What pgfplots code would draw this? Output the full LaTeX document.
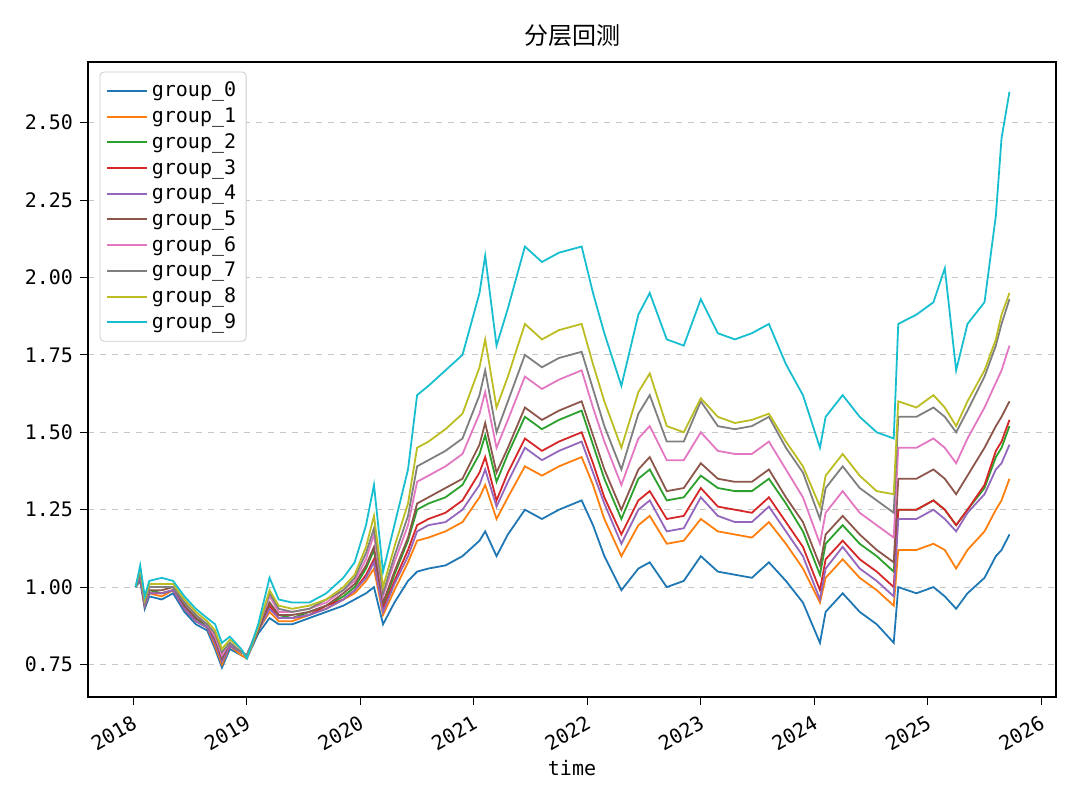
\documentclass[border=0pt]{standalone}
\usepackage{pgfplots}
\usepackage{pgfplotstable}
\usepackage{fontspec}
\pgfplotsset{compat=1.18}
\setmainfont{DejaVu Sans Mono}
\newfontfamily\cjk{Noto Sans CJK SC}
\definecolor{c0}{HTML}{1F77B4}\definecolor{c1}{HTML}{FF7F0E}\definecolor{c2}{HTML}{2CA02C}
\definecolor{c3}{HTML}{D62728}\definecolor{c4}{HTML}{9467BD}\definecolor{c5}{HTML}{8C564B}
\definecolor{c6}{HTML}{E377C2}\definecolor{c7}{HTML}{7F7F7F}\definecolor{c8}{HTML}{BCBD22}
\definecolor{c9}{HTML}{17BECF}
\pgfplotstableread{
t g0 g1 g2 g3 g4 g5 g6 g7 g8 g9
2018.02 1.00 1.00 1.00 1.00 1.00 1.00 1.00 1.00 1.00 1.00
2018.06 1.02 1.03 1.04 1.03 1.03 1.04 1.05 1.05 1.06 1.07
2018.10 0.93 0.94 0.94 0.94 0.94 0.95 0.95 0.95 0.96 0.97
2018.14 0.97 0.98 0.99 0.98 0.98 0.99 1.00 1.00 1.01 1.02
2018.25 0.96 0.97 0.98 0.98 0.98 0.99 1.00 1.00 1.01 1.03
2018.35 0.98 0.99 0.99 0.99 0.99 1.00 1.00 1.00 1.01 1.02
2018.45 0.92 0.93 0.94 0.93 0.93 0.94 0.95 0.95 0.96 0.97
2018.55 0.88 0.89 0.90 0.89 0.89 0.90 0.91 0.91 0.92 0.93
2018.65 0.86 0.87 0.87 0.87 0.87 0.88 0.88 0.88 0.89 0.90
2018.72 0.80 0.81 0.83 0.82 0.82 0.83 0.84 0.85 0.86 0.88
2018.78 0.74 0.75 0.77 0.76 0.76 0.77 0.78 0.79 0.80 0.82
2018.85 0.80 0.81 0.81 0.81 0.81 0.82 0.82 0.82 0.83 0.84
2018.95 0.78 0.78 0.79 0.79 0.79 0.79 0.79 0.79 0.80 0.80
2019.00 0.77 0.77 0.78 0.78 0.78 0.78 0.78 0.78 0.77 0.77
2019.10 0.85 0.86 0.86 0.86 0.86 0.86 0.87 0.87 0.87 0.88
2019.20 0.90 0.92 0.95 0.94 0.93 0.95 0.97 0.98 0.99 1.03
2019.28 0.88 0.89 0.91 0.90 0.90 0.91 0.92 0.93 0.94 0.96
2019.40 0.88 0.89 0.90 0.90 0.90 0.91 0.92 0.92 0.93 0.95
2019.55 0.90 0.91 0.92 0.91 0.91 0.92 0.93 0.93 0.94 0.95
2019.70 0.92 0.93 0.94 0.94 0.93 0.94 0.95 0.96 0.96 0.98
2019.85 0.94 0.96 0.97 0.96 0.96 0.98 0.99 0.99 1.00 1.03
2019.95 0.96 0.98 1.00 0.99 0.99 1.01 1.02 1.03 1.04 1.08
2020.05 0.98 1.02 1.06 1.04 1.03 1.07 1.09 1.11 1.13 1.20
2020.12 1.00 1.06 1.12 1.09 1.08 1.13 1.17 1.19 1.23 1.33
2020.20 0.88 0.91 0.94 0.93 0.92 0.95 0.97 0.98 1.00 1.05
2020.30 0.95 0.99 1.04 1.02 1.01 1.05 1.08 1.10 1.13 1.20
2020.42 1.02 1.08 1.15 1.12 1.10 1.16 1.20 1.23 1.27 1.38
2020.50 1.05 1.15 1.25 1.20 1.18 1.27 1.34 1.39 1.45 1.62
2020.60 1.06 1.16 1.27 1.22 1.20 1.29 1.36 1.41 1.47 1.65
2020.75 1.07 1.18 1.29 1.24 1.21 1.32 1.39 1.44 1.51 1.70
2020.90 1.10 1.21 1.33 1.28 1.25 1.35 1.43 1.48 1.56 1.75
2021.05 1.15 1.29 1.43 1.37 1.33 1.46 1.56 1.62 1.71 1.95
2021.10 1.18 1.33 1.49 1.42 1.38 1.53 1.63 1.70 1.80 2.07
2021.20 1.10 1.22 1.34 1.28 1.26 1.37 1.45 1.50 1.58 1.78
2021.30 1.17 1.29 1.43 1.37 1.34 1.45 1.54 1.60 1.68 1.90
2021.45 1.25 1.39 1.55 1.48 1.45 1.58 1.68 1.75 1.85 2.10
2021.60 1.22 1.36 1.51 1.44 1.41 1.54 1.64 1.71 1.80 2.05
2021.75 1.25 1.39 1.54 1.47 1.44 1.57 1.67 1.74 1.83 2.08
2021.95 1.28 1.42 1.57 1.50 1.47 1.60 1.70 1.76 1.85 2.10
2022.05 1.20 1.33 1.46 1.40 1.37 1.49 1.58 1.64 1.72 1.95
2022.15 1.10 1.22 1.35 1.29 1.27 1.38 1.47 1.52 1.60 1.82
2022.30 0.99 1.10 1.22 1.17 1.14 1.25 1.33 1.38 1.45 1.65
2022.45 1.06 1.20 1.35 1.28 1.25 1.38 1.48 1.56 1.63 1.88
2022.55 1.08 1.23 1.38 1.31 1.28 1.42 1.52 1.62 1.69 1.95
2022.70 1.00 1.14 1.28 1.22 1.18 1.31 1.41 1.47 1.52 1.80
2022.85 1.02 1.15 1.29 1.23 1.19 1.32 1.41 1.47 1.50 1.78
2023.00 1.10 1.22 1.36 1.32 1.29 1.40 1.50 1.60 1.61 1.93
2023.15 1.05 1.18 1.32 1.26 1.23 1.35 1.44 1.52 1.55 1.82
2023.30 1.04 1.17 1.31 1.25 1.21 1.34 1.43 1.51 1.53 1.80
2023.45 1.03 1.16 1.31 1.24 1.21 1.34 1.43 1.52 1.54 1.82
2023.60 1.08 1.21 1.35 1.29 1.26 1.38 1.47 1.55 1.56 1.85
2023.75 1.02 1.14 1.27 1.21 1.18 1.29 1.38 1.45 1.47 1.72
2023.90 0.95 1.06 1.18 1.13 1.10 1.21 1.29 1.37 1.39 1.62
2024.05 0.82 0.95 1.04 0.99 0.96 1.07 1.14 1.22 1.26 1.45
2024.10 0.92 1.03 1.14 1.09 1.06 1.17 1.24 1.32 1.36 1.55
2024.25 0.98 1.09 1.20 1.15 1.13 1.23 1.31 1.39 1.43 1.62
2024.40 0.92 1.03 1.14 1.09 1.06 1.17 1.24 1.32 1.36 1.55
2024.55 0.88 0.99 1.10 1.05 1.02 1.12 1.20 1.28 1.31 1.50
2024.70 0.82 0.94 1.05 1.00 0.97 1.08 1.16 1.24 1.30 1.48
2024.74 1.00 1.12 1.25 1.25 1.22 1.35 1.45 1.55 1.60 1.85
2024.90 0.98 1.12 1.25 1.25 1.22 1.35 1.45 1.55 1.58 1.88
2025.05 1.00 1.14 1.28 1.28 1.25 1.38 1.48 1.58 1.62 1.92
2025.15 0.97 1.12 1.25 1.25 1.22 1.35 1.45 1.55 1.58 2.03
2025.25 0.93 1.06 1.20 1.20 1.18 1.30 1.40 1.50 1.52 1.70
2025.35 0.98 1.12 1.25 1.25 1.24 1.36 1.48 1.57 1.60 1.85
2025.50 1.03 1.18 1.32 1.33 1.30 1.45 1.58 1.68 1.70 1.92
2025.60 1.10 1.25 1.42 1.44 1.38 1.52 1.66 1.78 1.80 2.20
2025.65 1.12 1.28 1.45 1.47 1.40 1.55 1.70 1.85 1.88 2.45
2025.72 1.17 1.35 1.52 1.54 1.46 1.60 1.78 1.93 1.95 2.60
}\data
\begin{document}
\begin{tikzpicture}
\begin{axis}[
  at={(0,0)}, anchor=south west,
  scale only axis, width=484pt, height=317.5pt,
  xmin=2017.60, xmax=2026.13, ymin=0.645, ymax=2.696,
  xtick={2018,...,2026}, xticklabels={2018,2019,2020,2021,2022,2023,2024,2025,2026},
  ytick={0.75,1.00,1.25,1.50,1.75,2.00,2.25,2.50},
  /pgf/number format/fixed, /pgf/number format/fixed zerofill, /pgf/number format/precision=2,
  /pgf/number format/assume math mode=true,
  xticklabel style={rotate=30, anchor=north east, font=\fontsize{10}{12}\selectfont},
  yticklabel style={font=\fontsize{10}{12}\selectfont},
  ymajorgrids, major grid style={dashed, gray!45, line width=0.5pt},
  tick style={black, line width=0.5pt}, major tick length=4pt,
  tick align=outside, xtick pos=bottom, ytick pos=left,
  axis line style={line width=0.6pt},
  xlabel={time}, xlabel style={font=\fontsize{10}{12}\selectfont, yshift=4pt},
  title={\cjk 分层回测}, title style={font=\fontsize{12}{14}\selectfont, yshift=-2pt},
  legend style={font=\fontsize{10}{14}\selectfont, draw=gray!40, rounded corners=2pt, inner sep=3pt, at={(0.012,0.985)}, anchor=north west},
  legend cell align=left,
  legend image code/.code={\draw[#1, line width=1pt] (0cm,0cm) -- (0.7cm,0cm);},
  every axis plot/.append style={line width=0.9pt, mark=none},
]
\addplot[c0] table[x=t,y=g0]{\data}; \addlegendentry{group\_0}
\addplot[c1] table[x=t,y=g1]{\data}; \addlegendentry{group\_1}
\addplot[c2] table[x=t,y=g2]{\data}; \addlegendentry{group\_2}
\addplot[c3] table[x=t,y=g3]{\data}; \addlegendentry{group\_3}
\addplot[c4] table[x=t,y=g4]{\data}; \addlegendentry{group\_4}
\addplot[c5] table[x=t,y=g5]{\data}; \addlegendentry{group\_5}
\addplot[c6] table[x=t,y=g6]{\data}; \addlegendentry{group\_6}
\addplot[c7] table[x=t,y=g7]{\data}; \addlegendentry{group\_7}
\addplot[c8] table[x=t,y=g8]{\data}; \addlegendentry{group\_8}
\addplot[c9] table[x=t,y=g9]{\data}; \addlegendentry{group\_9}
\end{axis}
\path[use as bounding box] (-44pt,-56.5pt) rectangle (496pt,348.5pt);
\end{tikzpicture}
\end{document}
